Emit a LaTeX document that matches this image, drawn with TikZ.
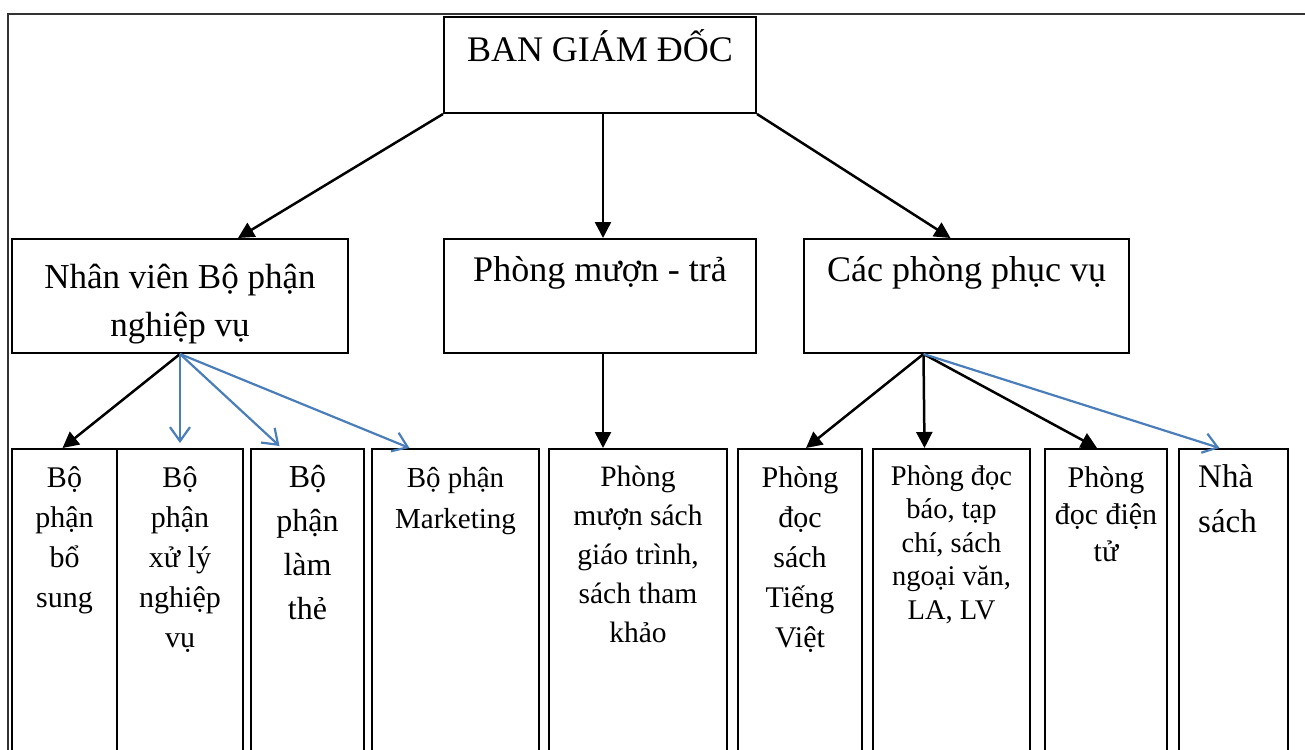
\documentclass[tikz,border=0pt]{standalone}
\usepackage{fontspec}
\setmainfont{Liberation Serif}
\usetikzlibrary{arrows.meta}
\definecolor{linkblue}{RGB}{74,126,187}
\newcommand{\tstrut}{\rule{0pt}{39pt}}

\begin{document}
\begin{tikzpicture}[x=1pt,y=-1pt,
  box/.style={draw,line width=2pt,inner sep=0pt,anchor=north west},
  txt/.style={anchor=north,inner sep=0pt,align=center,font=\fontsize{30}{40}\selectfont},
  head/.style={txt,font=\fontsize{36}{48}\selectfont},
  blackarr/.style={line width=2.5pt,-{Triangle[length=16pt,width=16pt]}},
  bluearr/.style={line width=2.2pt,draw=linkblue,-{Straight Barb[length=14pt,width=20pt]}}]
\clip (0,0) rectangle (1305,749);
\draw[line width=2pt,black!80] (8,760) |- (1310,14);

% top and second row
\node[box,minimum width=312pt,minimum height=96pt] (bgd) at (443,16) {};
\node[head,yshift=-6pt] at (bgd.north) {\tstrut BAN GIÁM ĐỐC};
\node[box,minimum width=336pt,minimum height=114pt] (nv) at (11,238) {};
\node[head,font=\fontsize{35}{48}\selectfont,yshift=-11pt] at (nv.north) {\tstrut Nhân viên Bộ phận\\nghiệp vụ};
\node[box,minimum width=312pt,minimum height=114pt] (pmt) at (443,238) {};
\node[head,yshift=-4pt] at (pmt.north) {\tstrut Phòng mượn - trả};
\node[box,minimum width=325pt,minimum height=114pt] (cpv) at (803,238) {};
\node[head,yshift=-4pt] at (cpv.north) {\tstrut Các phòng phục vụ};

% bottom row
\node[box,minimum width=105pt,minimum height=320pt] (b1) at (11,448) {};
\node[txt] at (b1.north) {\tstrut Bộ\\phận\\bổ\\sung};
\node[box,minimum width=126pt,minimum height=320pt] (b2) at (116,448) {};
\node[txt] at (b2.north) {\tstrut Bộ\\phận\\xử lý\\nghiệp\\vụ};
\node[box,minimum width=113pt,minimum height=320pt] (b3) at (250,448) {};
\node[txt,font=\fontsize{32}{44}\selectfont] at (b3.north) {\tstrut Bộ\\phận\\làm\\thẻ};
\node[box,minimum width=167pt,minimum height=320pt] (b4) at (371,448) {};
\node[txt,font=\fontsize{29}{41}\selectfont] at (b4.north) {\tstrut Bộ phận\\Marketing};
\node[box,minimum width=178pt,minimum height=320pt] (b5) at (548,448) {};
\node[txt,font=\fontsize{29.5}{39}\selectfont,yshift=1pt] at (b5.north) {\tstrut Phòng\\mượn sách\\giáo trình,\\sách tham\\khảo};
\node[box,minimum width=124pt,minimum height=320pt] (b6) at (737,448) {};
\node[txt] at (b6.north) {\tstrut Phòng\\đọc\\sách\\Tiếng\\Việt};
\node[box,minimum width=157pt,minimum height=320pt] (b7) at (872,448) {};
\node[txt,font=\fontsize{28.5}{33.5}\selectfont,yshift=2pt] at (b7.north) {\tstrut Phòng đọc\\báo, tạp\\chí, sách\\ngoại văn,\\LA, LV};
\node[box,minimum width=122pt,minimum height=320pt] (b8) at (1044,448) {};
\node[txt,font=\fontsize{30}{37}\selectfont] at (b8.north) {\tstrut Phòng\\đọc điện\\tử};
\node[box,minimum width=109pt,minimum height=320pt] (b9) at (1178,448) {};
\node[txt,anchor=north west,align=left,font=\fontsize{33}{45}\selectfont] at ([xshift=20pt]b9.north west) {\tstrut Nhà\\sách};

% connectors
\draw[blackarr] (bgd.south west) -- ([xshift=58pt]nv.north);
\draw[blackarr] ([xshift=3pt]bgd.south) -- ([xshift=3pt]pmt.north);
\draw[blackarr] (bgd.south east) -- ([xshift=-16pt]cpv.north);
\draw[blackarr] (nv.south) -- ([xshift=-2pt]b1.north);
\draw[bluearr] (nv.south) -- ([yshift=5pt]b2.north);
\draw[bluearr] (nv.south) -- ([xshift=-28pt,yshift=2pt]b3.north);
\draw[bluearr] (nv.south) -- ([xshift=-46pt]b4.north);
\draw[blackarr] ([xshift=3pt]pmt.south) -- ([xshift=-35pt]b5.north);
\draw[blackarr] ([xshift=-43pt]cpv.south) -- ([xshift=6pt]b6.north);
\draw[blackarr] ([xshift=-43pt]cpv.south) -- ([xshift=-27pt]b7.north);
\draw[blackarr] ([xshift=-43pt]cpv.south) -- ([xshift=-9pt]b8.north);
\draw[bluearr] ([xshift=-43pt]cpv.south) -- ([xshift=-14pt]b9.north);
\end{tikzpicture}
\end{document}
